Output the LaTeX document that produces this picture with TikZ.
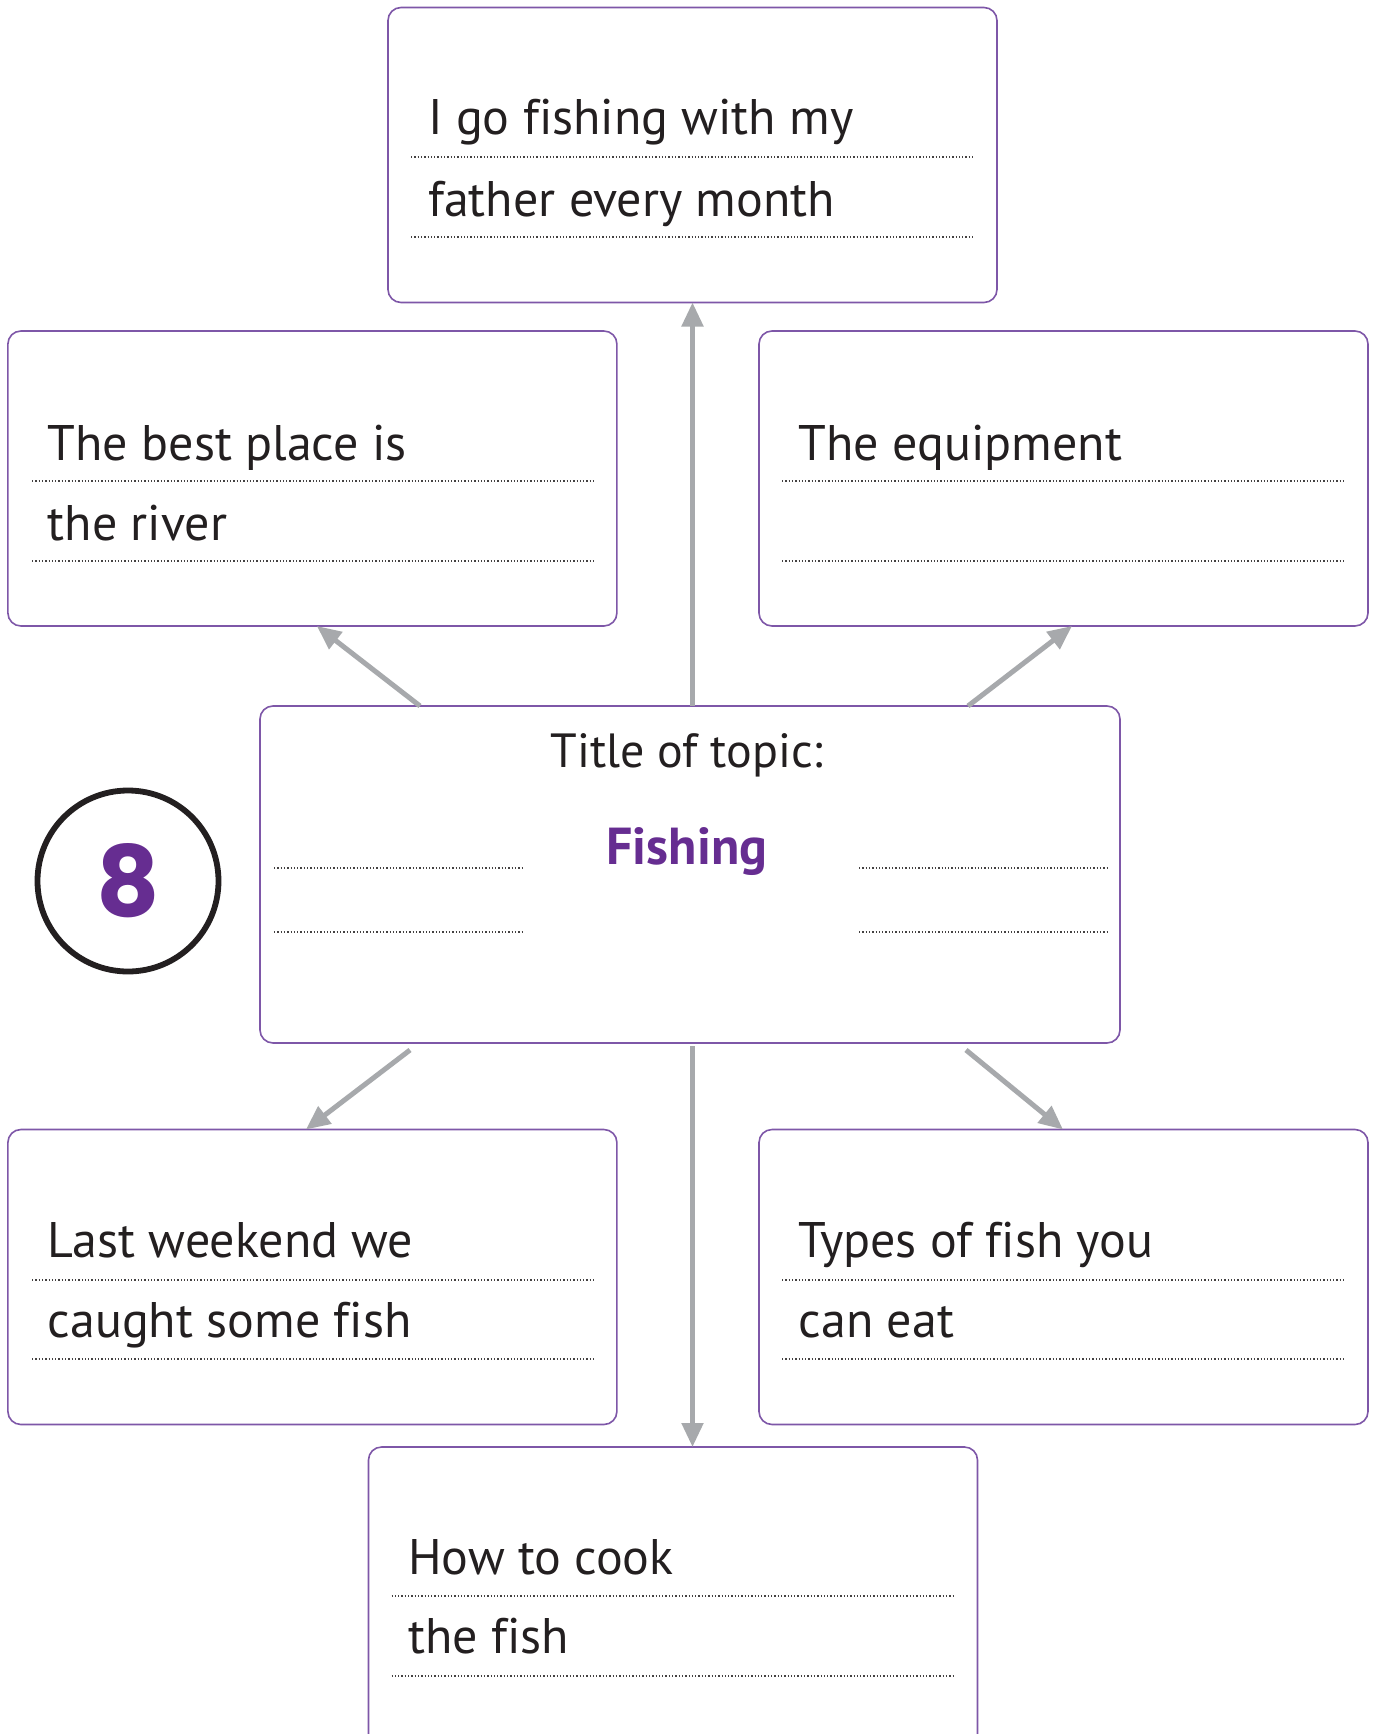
\documentclass[tikz,border=0pt]{standalone}
\usepackage{fontspec}
\setmainfont{PT Sans}[Ligatures=NoCommon]
\newfontfamily\badgefont{Poppins}
\usetikzlibrary{arrows.meta}
\definecolor{boxline}{HTML}{7E57A8}
\definecolor{titlepurple}{HTML}{662D91}
\definecolor{arrowgray}{HTML}{A7A9AC}
\definecolor{ink}{HTML}{231F20}

\begin{document}
\begin{tikzpicture}[x=1pt,y=-1pt,
  card/.style={draw=boxline, line width=1.6pt, rounded corners=13pt,
    minimum width=609pt, minimum height=295pt, inner sep=0pt, outer sep=0pt},
  hub/.style={card, minimum width=860pt, minimum height=337pt},
  entry/.style={anchor=base west, inner sep=0pt, text=ink,
    font=\fontsize{50}{60}\selectfont},
  rule/.style={draw=ink!85, line width=1.3pt, dash pattern=on 1.3pt off 2pt},
  link/.style={draw=arrowgray, line width=5pt,
    -{Triangle[length=24pt,width=21pt]}}]

\clip (0,0) rectangle (1378,1734);
\fill[white] (0,0) rectangle (1378,1734);

% boxes
\node[card] (top) at (692.5,155) {};
\node[card] (lu) at (312.4,478.5) {};
\node[card] (ru) at (1063.5,478.5) {};
\node[hub] (hub) at (690,874.5) {};
\node[card] (ll) at (312.4,1277) {};
\node[card] (lr) at (1063.5,1277) {};
\node[card, minimum height=310pt] (bot) at (673,1602) {};

% numbered badge
\node[circle, draw=ink, line width=5.8pt, minimum size=181pt, inner sep=0pt,
  text=titlepurple, font=\fontsize{98}{110}\badgefont\bfseries] (badge) at (128,881) {8};

% connectors
\draw[link] (top.south |- hub.north) -- (top.south);
\draw[link] ([xshift=160pt]hub.north west) -- ([xshift=309pt]lu.south west);
\draw[link] ([xshift=708pt]hub.north west) -- ([xshift=313pt]ru.south west);
\draw[link] ([xshift=150pt,yshift=-7pt]hub.south west) -- ([xshift=298pt]ll.north west);
\draw[link] ([xshift=706pt,yshift=-7pt]hub.south west) -- ([xshift=304pt]lr.north west);
\draw[link] ([yshift=-3pt]top.south |- hub.south) -- ([xshift=324pt]bot.north west);

% top box
\node[entry] (t1) at (428,135) {I go fishing with my};
\node[entry] (t2) at (428,216) {father every month};
\draw[rule] (411,157) -- (974,157);
\draw[rule] (411,237) -- (974,237);

% upper left
\node[entry] (lu1) at (47.6,460) {The best place is};
\node[entry] (lu2) at (47.6,540) {the river};
\draw[rule] (32,481) -- (595,481);
\draw[rule] (32,561) -- (595,561);

% upper right
\node[entry] (ru1) at (798.6,460) {The equipment};
\draw[rule] (782,481) -- (1346,481);
\draw[rule] (782,561) -- (1346,561);

% centre
\node[anchor=base, inner sep=0pt, text=ink, font=\fontsize{48}{58}\selectfont] (ttl) at (687,767.6) {Title of topic:};
\node[anchor=base, inner sep=0pt, text=titlepurple, font=\fontsize{52}{60}\selectfont\bfseries] (topic) at (687,864) {Fishing};
\draw[rule] (274,868) -- (523,868);
\draw[rule] (274,932) -- (523,932);
\draw[rule] (859,868) -- (1109,868);
\draw[rule] (859,932) -- (1109,932);

% lower left
\node[entry] (ll1) at (47.6,1257) {Last weekend we};
\node[entry] (ll2) at (47.6,1337) {caught some fish};
\draw[rule] (32,1280) -- (595,1280);
\draw[rule] (32,1359) -- (595,1359);

% lower right
\node[entry] (lr1) at (798.6,1257) {Types of fish you};
\node[entry] (lr2) at (798.6,1337) {can eat};
\draw[rule] (782,1280) -- (1346,1280);
\draw[rule] (782,1359) -- (1346,1359);

% bottom
\node[entry] (b1) at (408,1574) {How to cook};
\node[entry] (b2) at (408,1653) {the fish};
\draw[rule] (391.5,1596) -- (954.6,1596);
\draw[rule] (391.5,1676) -- (954.6,1676);
\end{tikzpicture}
\end{document}
